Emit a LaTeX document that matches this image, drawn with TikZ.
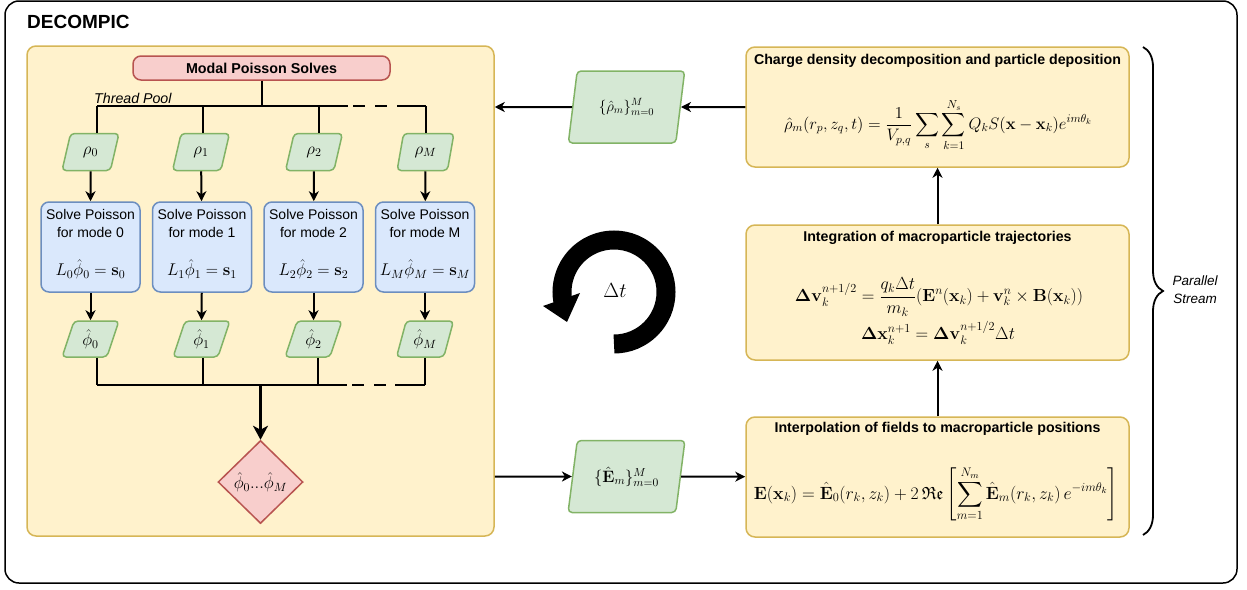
\RequirePackage{fix-cm}
\documentclass[tikz,border=0pt]{standalone}
\usepackage{amsmath,amssymb}
\usepackage[no-math]{fontspec}
\setmainfont{Liberation Sans}
\usetikzlibrary{shapes.geometric,arrows.meta,decorations.pathreplacing}
\definecolor{ylfill}{HTML}{FFF2CC}
\definecolor{yldraw}{HTML}{D6B656}
\definecolor{rdfill}{HTML}{F8CECC}
\definecolor{rddraw}{HTML}{B85450}
\definecolor{blfill}{HTML}{DAE8FC}
\definecolor{bldraw}{HTML}{6C8EBF}
\definecolor{grfill}{HTML}{D5E8D4}
\definecolor{grdraw}{HTML}{82B366}
\begin{document}
\begin{tikzpicture}[x=1pt,y=-1pt,
  frame/.style={draw=black,line width=1.5pt,rounded corners=14pt,inner sep=0pt},
  ybox/.style={draw=yldraw,fill=ylfill,line width=1.5pt,rounded corners=9pt,inner sep=0pt},
  rbox/.style={draw=rddraw,fill=rdfill,line width=1.5pt,rounded corners=8pt,inner sep=0pt,
    font=\fontsize{14.3}{16}\selectfont\bfseries},
  bbox/.style={draw=bldraw,fill=blfill,line width=1.5pt,rounded corners=8pt,inner sep=0pt,
    minimum width=99pt,minimum height=90pt},
  para/.style={trapezium,trapezium left angle=73,trapezium right angle=107,trapezium stretches=true,
    draw=grdraw,fill=grfill,line width=1.5pt,rounded corners=4pt,inner sep=0pt,
    font=\fontsize{17}{19}\selectfont},
  spara/.style={para,minimum width=57pt,minimum height=37pt},
  bpara/.style={para,minimum width=117pt,minimum height=72pt},
  dia/.style={diamond,aspect=1,draw=rddraw,fill=rdfill,line width=1.5pt,inner sep=0pt,
    minimum width=85pt,minimum height=83pt,font=\fontsize{17}{19}\selectfont},
  lbl/.style={inner sep=0pt,font=\fontsize{14}{18}\selectfont,align=center},
  ttl/.style={inner sep=0pt,font=\fontsize{14.2}{16}\selectfont\bfseries},
  eqn/.style={inner sep=0pt,font=\fontsize{17}{19}\selectfont},
  ln/.style={draw=black,line width=2pt},
  arr/.style={ln,-{Stealth[length=10pt,width=10pt,inset=3pt]}},
  bigarr/.style={draw=black,line width=2.5pt,-{Stealth[length=14pt,width=15pt,inset=4pt]}},
  dsh/.style={ln,dash pattern=on 12pt off 10pt,dash phase=17pt}
]
\useasboundingbox (0,0) rectangle (1247,589);
\node[frame,minimum width=1232pt,minimum height=582pt] (outer) at (621,292) {};
\node[anchor=west,inner sep=0pt,font=\fontsize{19}{21}\selectfont\bfseries] (title) at (27,22) {DECOMPIC};

% left container
\node[ybox,minimum width=467pt,minimum height=490pt] (left) at (260.5,291) {};
\node[rbox,minimum width=257pt,minimum height=24pt] (mps) at (261.5,68) {Modal Poisson Solves};
\node[anchor=west,inner sep=0pt,font=\fontsize{14.2}{16}\selectfont\itshape] (tp) at (94,98) {Thread Pool};

% thread bar
\coordinate (tc) at (261.5,106);
\coordinate (t0) at (97,106);
\coordinate (t1) at (203,106);
\coordinate (t2) at (319,106);
\coordinate (ta) at (348,106);
\coordinate (tb) at (397,106);
\coordinate (t3) at (426,106);
\draw[ln] (mps) -- (tc);
\draw[ln] (t0) -- (ta);
\draw[dsh] (ta) -- (tb);
\draw[ln] (tb) -- (t3);

% rho nodes
\node[spara] (rho0) at (90.5,152) {$\rho_0$};
\node[spara] (rho1) at (201,152) {$\rho_1$};
\node[spara] (rho2) at (314,152) {$\rho_2$};
\node[spara] (rho3) at (425.5,152) {$\rho_M$};
\draw[ln] (t0) -- (t0 |- rho0.north);
\draw[ln] (t1) -- (t1 |- rho1.north);
\draw[ln] (t2) -- (t2 |- rho2.north);
\draw[ln] (t3) -- (t3 |- rho3.north);

% solver boxes
\foreach \i/\x/\m in {0/90.5/0,1/202/1,2/313.5/2,3/425/M}{
  \node[bbox] (s\i) at (\x,247) {};
  \node[lbl] (s\i t) at (\x,223) {Solve Poisson\\for mode \m};
  \node[eqn] (s\i e) at (\x,269) {$L_{\m}\hat{\phi}_{\m} = \mathbf{s}_{\m}$};
}
\draw[arr] (rho0) -- (s0);
\draw[arr] (rho1) -- (s1);
\draw[arr] (rho2) -- (s2);
\draw[arr] (rho3) -- (s3);

% phi nodes
\node[spara,minimum height=36pt] (phi0) at (90.5,339) {$\hat{\phi}_0$};
\node[spara,minimum height=36pt] (phi1) at (201.5,339) {$\hat{\phi}_1$};
\node[spara,minimum height=36pt] (phi2) at (313.5,339) {$\hat{\phi}_2$};
\node[spara,minimum height=36pt] (phi3) at (425,339) {$\hat{\phi}_M$};
\draw[arr] (s0) -- (phi0);
\draw[arr] (s1) -- (phi1);
\draw[arr] (s2) -- (phi2);
\draw[arr] (s3) -- (phi3);

% gather bar
\coordinate (b0) at (97,385);
\coordinate (b1) at (203,385);
\coordinate (b2) at (318,385);
\coordinate (ba) at (347,385);
\coordinate (bb) at (395,385);
\coordinate (b3) at (425,385);
\coordinate (bc) at (260.5,385);
\draw[ln] (b0 |- phi0.south) -- (b0);
\draw[ln] (b1 |- phi1.south) -- (b1);
\draw[ln] (b2 |- phi2.south) -- (b2);
\draw[ln] (b3 |- phi3.south) -- (b3);
\draw[ln] (b0) -- (ba);
\draw[dsh] (ba) -- (bb);
\draw[ln] (bb) -- (b3);
\node[dia] (diam) at (260.5,482) {$\hat{\phi}_0...\hat{\phi}_M$};
\draw[bigarr] (bc) -- (diam);

% time step loop
\draw[line width=19pt] (614,292) ++(90:52) arc[start angle=90,end angle=-190,radius=52];
\fill (543,306) -- (580,293) -- (567,322) -- cycle;
\node[inner sep=0pt,font=\fontsize{20.5}{24}\selectfont] (dt) at (615,290) {$\Delta t$};

% right column
\node[ybox,minimum width=383pt,minimum height=120pt] (charge) at (937.5,107) {};
\node[ttl] (chargeT) at (937.5,61) {Charge density decomposition and particle deposition};
\node[eqn,font=\fontsize{16.6}{18}\selectfont] (chargeE) at (938,125)
  {$\displaystyle \hat{\rho}_m(r_p,z_q,t) = \frac{1}{V_{p,q}}\sum_s\sum_{k=1}^{N_s} Q_k S(\mathbf{x}-\mathbf{x}_k)e^{im\theta_k}$};

\node[ybox,minimum width=383pt,minimum height=135pt] (integ) at (937.5,292.5) {};
\node[ttl] (integT) at (937.5,238) {Integration of macroparticle trajectories};
\node[eqn,font=\fontsize{17.5}{20}\selectfont] (integE1) at (939,297)
  {$\displaystyle \mathbf{\Delta v}_k^{n+1/2} = \frac{q_k\Delta t}{m_k}(\mathbf{E}^n(\mathbf{x}_k)+\mathbf{v}_k^n\times\mathbf{B}(\mathbf{x}_k))$};
\node[eqn,font=\fontsize{17.5}{20}\selectfont] (integE2) at (938,333)
  {$\displaystyle \mathbf{\Delta x}_k^{n+1} = \mathbf{\Delta v}_k^{n+1/2}\Delta t$};

\node[ybox,minimum width=383pt,minimum height=120pt] (interp) at (937.5,477) {};
\node[ttl] (interpT) at (937.5,429) {Interpolation of fields to macroparticle positions};
\node[eqn,font=\fontsize{17.7}{20}\selectfont] (interpE) at (936,494)
  {$\displaystyle \mathbf{E}(\mathbf{x}_k) = \hat{\mathbf{E}}_0(r_k,z_k) + 2\,\mathfrak{Re}\left[\sum_{m=1}^{N_m}\hat{\mathbf{E}}_m(r_k,z_k)\,e^{-im\theta_k}\right]$};

% data nodes between columns
\node[bpara,font=\fontsize{15}{17}\selectfont] (rhohat) at (626.5,107) {$\{\hat{\rho}_m\}_{m=0}^{M}$};
\node[bpara,font=\fontsize{16.5}{18}\selectfont] (Ehat) at (626.5,476.5) {$\{\hat{\mathbf{E}}_m\}_{m=0}^{M}$};

\draw[arr] (charge) -- (rhohat);
\draw[arr] (rhohat) -- (rhohat -| left.east);
\draw[arr] (left.east |- Ehat) -- (Ehat);
\draw[arr] (Ehat) -- (interp);
\draw[arr] (interp) -- (integ);
\draw[arr] (integ) -- (charge);

% brace
\draw[line width=1.8pt,decorate,decoration={brace,amplitude=20pt}] (1143,47) -- (1143,535);
\node[inner sep=0pt,align=center,font=\fontsize{13.5}{18}\selectfont\itshape] (ps) at (1195,290) {Parallel\\Stream};
\end{tikzpicture}
\end{document}
